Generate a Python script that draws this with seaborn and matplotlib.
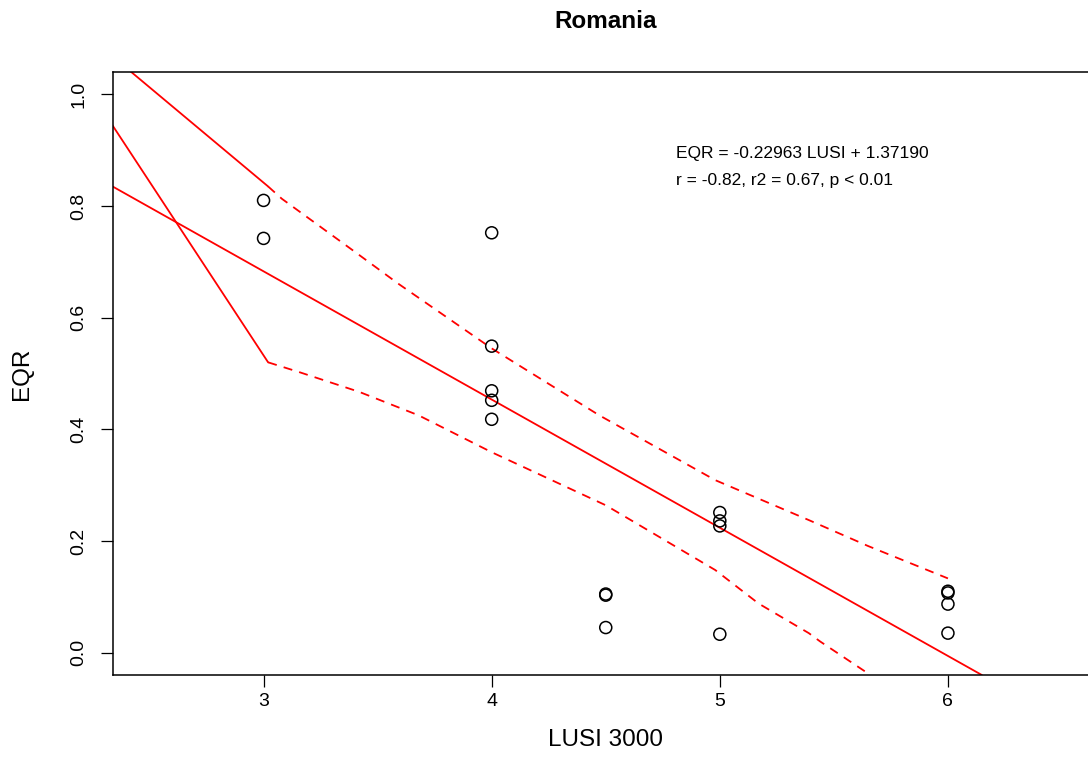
import matplotlib
matplotlib.use("Agg")
import matplotlib.pyplot as plt
import seaborn as sns
import pandas as pd

# ---------------- data ----------------
lusi = [3, 3,
        4, 4, 4, 4, 4,
        4.5, 4.5, 4.5,
        5, 5, 5, 5,
        6, 6, 6, 6]
eqr = [0.810, 0.742,
       0.752, 0.549, 0.469, 0.452, 0.418,
       0.105, 0.103, 0.045,
       0.251, 0.236, 0.227, 0.033,
       0.110, 0.107, 0.087, 0.035]

slope = -0.22963
intercept = 1.37190

# dashed confidence band (upper and lower)
upper_x = [3.02, 3.08, 3.40, 3.59, 4.00, 4.47, 4.98, 5.39, 5.65, 6.00]
upper_y = [0.835, 0.813, 0.718, 0.661, 0.545, 0.4255, 0.309, 0.2375, 0.191, 0.133]
lower_x = [3.02, 3.16, 3.42, 3.68, 4.00, 4.50, 4.98, 5.17, 5.39, 5.44, 5.66]
lower_y = [0.520, 0.502, 0.467, 0.425, 0.359, 0.264, 0.148, 0.088, 0.035, 0.020, -0.040]

# solid segments at left
usolid_x = [2.30, 3.02]
usolid_y = [1.081, 0.835]
lsolid_x = [2.30, 3.02]
lsolid_y = [0.968, 0.520]

xticks = [3, 4, 5, 6]
yticks = [0.0, 0.2, 0.4, 0.6, 0.8, 1.0]
ytick_labels = ["0.0", "0.2", "0.4", "0.6", "0.8", "1.0"]

title = "Romania"
xlabel = "LUSI 3000"
ylabel = "EQR"
eq_text = "EQR = -0.22963 LUSI + 1.37190"
stat_text = "r = -0.82, r2 = 0.67, p < 0.01"

# ---------------- plot ----------------
sns.set_theme(style="white")
plt.rcParams["font.family"] = ["Liberation Sans", "DejaVu Sans"]

W, H = 1088, 782
fig = plt.figure(figsize=(W / 100, H / 100), dpi=100)
fig.patch.set_facecolor("white")
left, right, top, bottom = 113, 1098.5, 72, 675
ax = fig.add_axes([left / W, 1 - bottom / H, (right - left) / W, (bottom - top) / H])
ax.set_facecolor("white")

red = "#ff0000"
df_pts = pd.DataFrame({"x": lusi, "y": eqr})

sns.lineplot(x=usolid_x, y=usolid_y, ax=ax, color=red, lw=1.3, estimator=None, sort=False)
sns.lineplot(x=lsolid_x, y=lsolid_y, ax=ax, color=red, lw=1.3, estimator=None, sort=False)
sns.lineplot(x=upper_x, y=upper_y, ax=ax, color=red, lw=1.3, estimator=None, sort=False,
             dashes=False, linestyle=(0, (5, 4)))
sns.lineplot(x=lower_x, y=lower_y, ax=ax, color=red, lw=1.3, estimator=None, sort=False,
             dashes=False, linestyle=(0, (5, 4)))
ax.axline((0, intercept), slope=slope, color=red, lw=1.3)

sns.scatterplot(data=df_pts, x="x", y="y", ax=ax, marker="o", s=75,
                facecolors="none", edgecolor="black", linewidth=1.1, zorder=5)

ax.set_xlim(2.34, 6.66)
ax.set_ylim(-0.04, 1.04)
ax.set_xticks(xticks)
ax.set_xticklabels([str(t) for t in xticks])
ax.set_yticks(yticks)
ax.set_yticklabels(ytick_labels, rotation=90, va="center")

for s in ax.spines.values():
    s.set_color("black")
    s.set_linewidth(1.1)
    s.set_visible(True)

ax.tick_params(axis="both", direction="out", length=8.6, width=0.9, color="black",
               labelsize=14, labelcolor="black", bottom=True, left=True)
ax.tick_params(axis="x", pad=4)
ax.tick_params(axis="y", pad=10)

ax.set_xlabel(xlabel, fontsize=17.5, color="black", va="center")
ax.set_ylabel(ylabel, fontsize=17.5, color="black", va="center")
ax.xaxis.set_label_coords(0.5, -(740 - bottom) / (bottom - top))
ax.yaxis.set_label_coords(-(left - 22) / (right - left), 0.5)

fig.text((left + right) / 2 / W, 1 - 22 / H, title, ha="center", va="center",
         fontsize=17.5, fontweight="bold", color="black")

ax.text(4.807, 0.894, eq_text, ha="left", va="center", fontsize=12.5, color="black")
ax.text(4.807, 0.846, stat_text, ha="left", va="center", fontsize=12.5, color="black")

fig.savefig("out.png", dpi=100, facecolor="white")
